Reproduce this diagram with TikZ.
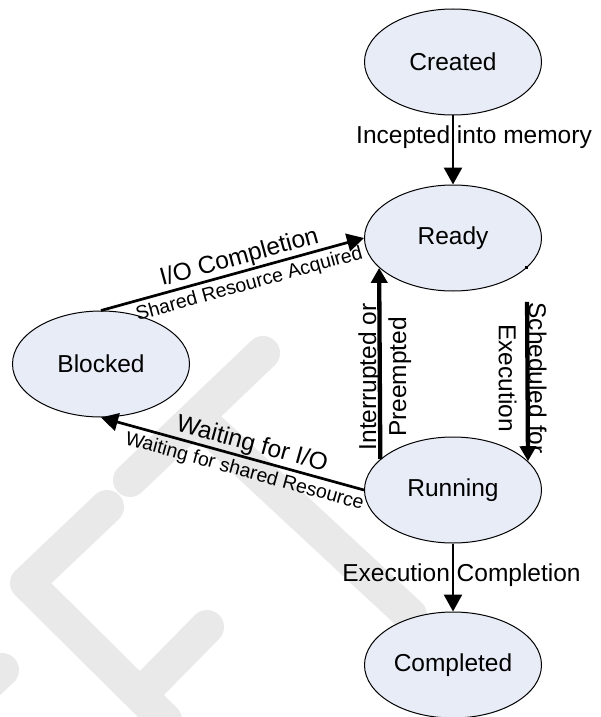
\documentclass[tikz,border=0pt]{standalone}
\usepackage{fontspec}
\setmainfont{Liberation Sans}
\usepackage{tikz}
\usetikzlibrary{arrows.meta,shapes.geometric}
\definecolor{statefill}{RGB}{232,236,247}
\definecolor{markgray}{RGB}{233,233,233}

\begin{document}
\begin{tikzpicture}[x=0.5pt,y=-0.5pt,->,>={Triangle[length=8.5pt,width=9pt]},
  line width=1.35pt,
  state node/.style={ellipse,draw,line width=0.5pt,fill=statefill,minimum width=88.5pt,
    minimum height=53pt,inner sep=0pt,font=\fontsize{12.25}{15}\selectfont},
  small label/.style={font=\fontsize{9.75}{12}\selectfont,inner sep=2pt},
  heavy/.style={line width=2.15pt,>={Triangle[length=7.5pt,width=8pt]}}]

\useasboundingbox (0,0) rectangle (600,717);

% watermark behind the diagram
\begin{scope}[-,draw=markgray,line width=17pt,line cap=round,line join=round]
  \draw (263,353) -- (130,480);
  \draw (197,417) -- (410,615);
  \draw (107,507) -- (27,583) -- (165,720);
  \draw (207,627) -- (145,690);
  \draw (-30,700) -- (2,670);
\end{scope}

\node[state node] (Created) at (453,62) {Created};
\node[state node] (Ready) at (453,238) {Ready};
\node[state node] (Blocked) at (101,364) {Blocked};
\node[state node] (Running) at (453,490) {Running};
\node[state node] (Completed) at (453,665) {Completed};

\path[every node/.style={font=\fontsize{12.25}{15}\selectfont,inner sep=0.5pt}]

(Created) edge node[pos=0.31,xshift=10.5pt] {Incepted into memory} (Ready)
(Blocked.north) edge node[sloped,above,pos=0.54] {I/O Completion}
  node[small label,sloped,below,pos=0.55] {Shared Resource Acquired} (Ready.west)
(Running.west) edge node[sloped,above,pos=0.44] {Waiting for I/O}
  node[small label,sloped,below,pos=0.44] {Waiting for shared Resource} (Blocked.south)
(Running.157.7) edge [heavy] node[pos=0.43,xshift=2.5pt,rotate=90,align=center]
  {Interrupted or\\Preempted} (Ready.202.3)
(Ready.338.6) edge [heavy,shorten <=17pt] node[pos=0.57,xshift=-2.5pt,rotate=-90,align=center]
  {Scheduled for\\Execution} (Running.21.4)
(Running) edge node[pos=0.47,xshift=4.25pt] {Execution Completion} (Completed);

% small mark where the scheduling arrow leaves Ready
\fill ([shift={(-1.5,-1.5)}]Ready.338.6) rectangle ++(3,3);

\end{tikzpicture}
\end{document}
